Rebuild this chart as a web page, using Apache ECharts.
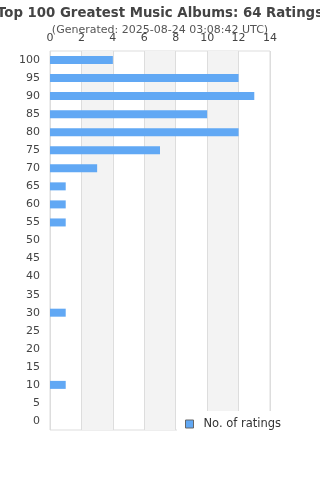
<!DOCTYPE html>
<html>
<head>
<meta charset="utf-8">
<script src="https://cdn.jsdelivr.net/npm/echarts@6/dist/echarts.min.js"></script>
<style>
  html, body { margin: 0; padding: 0; background: #fff; }
  #chart { width: 320px; height: 480px; }
</style>
</head>
<body>
<div id="chart"></div>
<script>
// rating buckets, bottom to top
const ratingBuckets = ['0', '5', '10', '15', '20', '25', '30', '35', '40', '45', '50',
  '55', '60', '65', '70', '75', '80', '85', '90', '95', '100'];
const ratingCounts = [0, 0, 1, 0, 0, 0, 1, 0, 0, 0, 0,
  1, 1, 1, 3, 7, 12, 10, 13, 12, 4];

const myChart = echarts.init(document.getElementById('chart'));
const option = {
  animation: false,
  textStyle: { fontFamily: 'DejaVu Sans' },
  title: {
    text: 'Top 100 Greatest Music Albums: 64 Ratings',
    subtext: '(Generated: 2025-08-24 03:08:42 UTC)',
    left: 'center',
    top: 2,
    itemGap: 5,
    textStyle: { fontSize: 13.3, fontWeight: 'bold', color: '#444' },
    subtextStyle: { fontSize: 11, color: '#555' }
  },
  grid: {
    left: 50,
    right: 50,
    top: 51,
    bottom: 50,
    show: true,
    borderColor: '#ddd',
    borderWidth: 1
  },
  xAxis: {
    type: 'value',
    position: 'top',
    min: 0,
    max: 14,
    interval: 2,
    axisLine: { show: false },
    axisTick: { show: false },
    axisLabel: { color: '#444', fontSize: 11, margin: 7 },
    splitLine: { lineStyle: { color: '#ddd' } },
    splitArea: { show: true, areaStyle: { color: ['rgba(255,255,255,0)', '#f3f3f3'] } }
  },
  yAxis: {
    type: 'category',
    data: ratingBuckets,
    axisLine: { show: false },
    axisTick: { show: false },
    axisLabel: { color: '#444', fontSize: 11, margin: 10, interval: 0 }
  },
  legend: {
    data: ['No. of ratings'],
    left: 177,
    top: 411,
    backgroundColor: '#fff',
    padding: [7, 40, 8, 8],
    itemWidth: 8,
    itemHeight: 8,
    icon: 'rect',
    itemStyle: { borderColor: '#666', borderWidth: 1 },
    textStyle: { fontSize: 11.5, color: '#333', padding: [0, 0, 0, 5] }
  },
  series: [
    {
      name: 'No. of ratings',
      type: 'bar',
      data: ratingCounts,
      barWidth: 8,
      itemStyle: { color: '#61a8f4' }
    }
  ]
};
option && myChart.setOption(option);
</script>
</body>
</html>
